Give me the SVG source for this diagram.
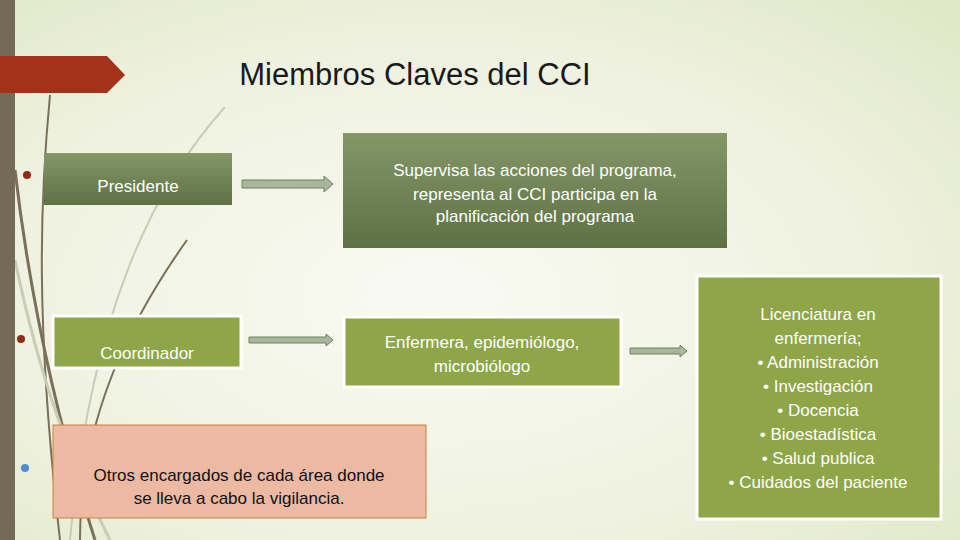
<svg xmlns="http://www.w3.org/2000/svg" width="960" height="540" viewBox="0 0 960 540">
<defs>
<radialGradient id="bg" cx="0.45" cy="0.55" r="0.8"><stop offset="0" stop-color="#f9faf3"/><stop offset="0.6" stop-color="#eef1de"/><stop offset="1" stop-color="#dde6c4"/></radialGradient>
<linearGradient id="dk" x1="0" y1="0" x2="0" y2="1"><stop offset="0" stop-color="#849767"/><stop offset="1" stop-color="#5e7145"/></linearGradient>
<marker id="ah" viewBox="0 0 10 10" refX="9" refY="5" markerWidth="1" markerHeight="1"/>
<style>
.t{font-family:"Liberation Sans",Arial,sans-serif;font-size:17px;text-anchor:middle}
.w{fill:#ffffff}.k{fill:#111}
.arr{fill:#a7b79a;stroke:#6f8264;stroke-width:1}
.lt{fill:#8ea548;stroke:#ffffff;stroke-width:3}
</style>
</defs>
<rect width="960" height="540" fill="url(#bg)"/>
<g id="decor" fill="none">
<path d="M50 95 C40 200 35 320 60 540" stroke="#7a705a" stroke-width="2"/>
<path d="M15 170 C30 300 60 430 95 540" stroke="#7a705a" stroke-width="3"/>
<path d="M15 260 C40 380 70 460 110 540" stroke="#c9cdb6" stroke-width="3"/>
<path d="M225 107 C150 190 90 320 70 540" stroke="#c9cdb6" stroke-width="2"/>
<path d="M187 240 C130 320 80 420 80 540" stroke="#7a705a" stroke-width="2"/>
</g>
<rect x="0" y="0" width="15" height="540" fill="#736b55"/>
<path d="M0 56 H107 L125 75 L107 93 H0 Z" fill="#a3321a"/>
<circle cx="27" cy="175" r="4" fill="#952a14"/>
<circle cx="21" cy="339" r="4" fill="#952a14"/>
<circle cx="25" cy="468" r="4" fill="#4a8fd3"/>
<text x="415" y="85" font-family="'Liberation Sans',Arial,sans-serif" font-size="31" fill="#1a1a1a" text-anchor="middle">Miembros Claves del CCI</text>
<g id="connectors">
<path class="arr" d="M242 180 H324 V176 L333 184 L324 192 V188 H242 Z"/>
<path class="arr" d="M249 337 H326 V334 L333 340 L326 346 V343 H249 Z"/>
<path class="arr" d="M630 348 H680 V345 L687 351 L680 357 V354 H630 Z"/>
</g>
<g id="presidente"><rect x="44" y="153" width="188" height="52" fill="url(#dk)"/><text class="t w" x="138" y="192">Presidente</text></g>
<g id="supervisa"><rect x="343" y="133" width="384" height="115" fill="url(#dk)"/>
<text class="t w" x="535" y="176">Supervisa las acciones del programa,</text>
<text class="t w" x="535" y="200">representa al CCI participa en la</text>
<text class="t w" x="535" y="222">planificación del programa</text></g>
<g id="coordinador"><rect class="lt" x="53" y="316" width="188" height="52"/><text class="t w" x="147" y="359">Coordinador</text></g>
<g id="enfermera"><rect class="lt" x="344" y="317" width="277" height="70"/>
<text class="t w" x="482" y="348">Enfermera, epidemiólogo,</text>
<text class="t w" x="482" y="372">microbiólogo</text></g>
<g id="licenciatura"><rect class="lt" x="697" y="276" width="244" height="243"/>
<text class="t w" x="818" y="320">Licenciatura en</text>
<text class="t w" x="818" y="344">enfermería;</text>
<text class="t w" x="818" y="368">•  Administración</text>
<text class="t w" x="818" y="392">•  Investigación</text>
<text class="t w" x="818" y="416">•  Docencia</text>
<text class="t w" x="818" y="440">•  Bioestadística</text>
<text class="t w" x="818" y="464">•  Salud publica</text>
<text class="t w" x="818" y="488">•  Cuidados del paciente</text></g>
<g id="otros"><rect x="53" y="425" width="373" height="93" fill="#ecb9a3" stroke="#c8823d" stroke-width="1"/>
<text class="t k" x="239" y="481">Otros encargados de cada área donde</text>
<text class="t k" x="239" y="504">se lleva a cabo la vigilancia.</text></g>
</svg>
